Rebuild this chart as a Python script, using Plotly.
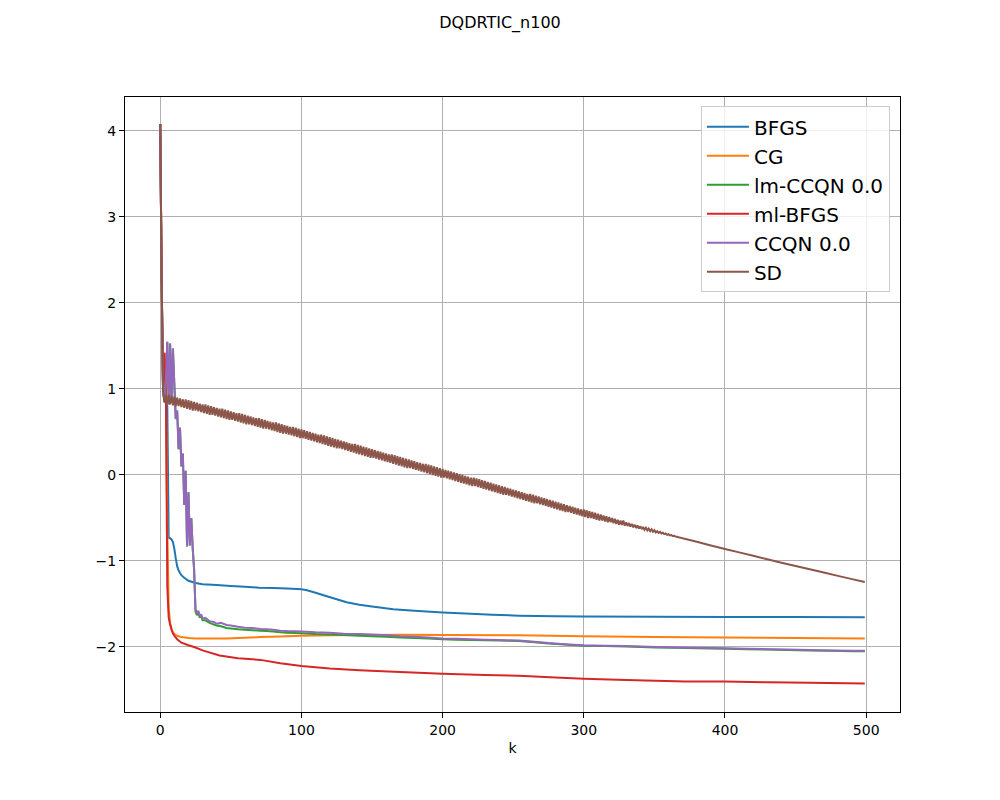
import plotly.graph_objects as go

# iteration index k and log10 objective value per method
BFGS_K = [0, 1, 2, 3, 4, 5, 6, 7, 8, 9, 10, 11, 12, 13, 14, 15, 17, 20, 25, 30,
          40, 50, 60, 70, 80, 90, 100, 104, 110, 118, 125, 132, 141, 150, 165,
          180, 200, 220, 235, 254, 280, 300, 350, 400, 450, 499]
BFGS_Y = [4.08, 2.30, 0.98, 0.88, 0.86, 0.80, -0.73, -0.735, -0.75, -0.78, -0.86,
          -0.97, -1.06, -1.11, -1.14, -1.165, -1.195, -1.23, -1.255, -1.27, -1.28,
          -1.29, -1.30, -1.31, -1.315, -1.32, -1.33, -1.34, -1.37, -1.41, -1.445,
          -1.48, -1.51, -1.53, -1.56, -1.58, -1.60, -1.615, -1.625, -1.636, -1.642,
          -1.645, -1.648, -1.65, -1.652, -1.655]

CG_K = [0, 1, 2, 3, 4, 5, 6, 7, 8, 9, 10, 12, 15, 20, 25, 35, 47, 60, 71, 85, 100,
        120, 141, 170, 200, 254, 300, 350, 400, 450, 499]
CG_Y = [4.08, 2.30, 0.98, 1.42, 0.90, -0.60, -1.55, -1.72, -1.79, -1.83, -1.85,
        -1.87, -1.885, -1.895, -1.90, -1.902, -1.90, -1.893, -1.885, -1.878, -1.87,
        -1.865, -1.86, -1.858, -1.86, -1.865, -1.876, -1.883, -1.89, -1.895, -1.90]

LMCCQN_K = [0, 1, 2, 3, 4, 5, 6, 7, 8, 9, 10, 11, 12, 13, 14, 15, 16, 17, 18, 19,
            20, 21, 22, 23, 24, 25, 26, 27, 28, 29, 30, 32, 35, 38, 40, 43, 47, 50,
            55, 60, 65, 71, 75, 80, 85, 90, 100, 110, 120, 130, 141, 150, 160, 170,
            180, 190, 200, 210, 220, 230, 240, 254, 265, 275, 289, 300, 315, 330,
            351, 365, 380, 400, 415, 430, 444, 460, 475, 490, 499]
LMCCQN_Y = [4.08, 2.30, 0.98, 0.85, 1.10, 1.55, 0.82, 1.53, 0.85, 1.47, 1.05, 0.65,
            0.75, 0.30, 0.55, 0.10, 0.25, -0.35, 0.05, -0.83, -0.20, -0.82, -0.50,
            -0.85, -1.10, -1.59, -1.63, -1.60, -1.66, -1.64, -1.69, -1.69, -1.72,
            -1.74, -1.75, -1.76, -1.78, -1.785, -1.795, -1.80, -1.805, -1.81, -1.815,
            -1.82, -1.83, -1.835, -1.84, -1.85, -1.855, -1.86, -1.87, -1.875, -1.88,
            -1.89, -1.895, -1.90, -1.91, -1.915, -1.92, -1.922, -1.925, -1.93,
            -1.945, -1.96, -1.975, -1.985, -1.99, -1.995, -2.005, -2.01, -2.015,
            -2.02, -2.025, -2.03, -2.035, -2.04, -2.045, -2.05, -2.05]

MLBFGS_K = [0, 1, 2, 3, 4, 5, 6, 7, 8, 9, 10, 12, 15, 20, 24, 30, 42, 55, 71, 85,
            100, 120, 141, 170, 200, 230, 254, 280, 300, 330, 372, 400, 430, 460, 499]
MLBFGS_Y = [4.08, 2.30, 0.98, 1.42, 1.00, -1.30, -1.66, -1.74, -1.80, -1.84, -1.87,
            -1.91, -1.95, -1.98, -2.00, -2.04, -2.10, -2.13, -2.15, -2.19, -2.22,
            -2.25, -2.27, -2.29, -2.31, -2.325, -2.335, -2.355, -2.37, -2.385, -2.40,
            -2.40, -2.41, -2.415, -2.425]

CCQN_K = LMCCQN_K
CCQN_Y = [4.08, 2.30, 0.98, 0.85, 1.10, 1.55, 0.82, 1.53, 0.85, 1.47, 1.05, 0.65,
          0.75, 0.30, 0.55, 0.10, 0.25, -0.35, 0.05, -0.83, -0.20, -0.82, -0.50,
          -0.85, -1.10, -1.57, -1.60, -1.58, -1.64, -1.62, -1.67, -1.66, -1.70,
          -1.71, -1.73, -1.72, -1.745, -1.75, -1.765, -1.775, -1.78, -1.79, -1.795,
          -1.80, -1.81, -1.815, -1.82, -1.83, -1.835, -1.845, -1.85, -1.855, -1.865,
          -1.875, -1.88, -1.89, -1.90, -1.905, -1.91, -1.915, -1.92, -1.926,
          -1.94, -1.955, -1.97, -1.98, -1.985, -1.99, -2.00, -2.005, -2.01,
          -2.015, -2.02, -2.025, -2.03, -2.035, -2.04, -2.043, -2.045]

SD_K = list(range(0, 371)) + [380, 390, 400, 410, 420, 430, 440, 450, 460, 470,
                              480, 490, 499]
SD_Y = [
    4.08, 2.30, 0.98, 0.84, 0.93, 0.83, 0.93, 0.82, 0.92, 0.81,
    0.91, 0.80, 0.90, 0.80, 0.89, 0.79, 0.88, 0.78, 0.88, 0.77,
    0.87, 0.76, 0.86, 0.75, 0.85, 0.75, 0.84, 0.74, 0.83, 0.73,
    0.82, 0.72, 0.82, 0.71, 0.81, 0.70, 0.80, 0.70, 0.79, 0.69,
    0.78, 0.68, 0.77, 0.67, 0.77, 0.66, 0.76, 0.65, 0.75, 0.64,
    0.74, 0.64, 0.73, 0.63, 0.72, 0.62, 0.72, 0.61, 0.71, 0.60,
    0.70, 0.59, 0.69, 0.59, 0.68, 0.58, 0.67, 0.57, 0.66, 0.56,
    0.66, 0.55, 0.65, 0.54, 0.64, 0.54, 0.63, 0.53, 0.62, 0.52,
    0.61, 0.51, 0.61, 0.50, 0.60, 0.49, 0.59, 0.48, 0.58, 0.48,
    0.57, 0.47, 0.56, 0.46, 0.56, 0.45, 0.55, 0.44, 0.54, 0.43,
    0.53, 0.43, 0.52, 0.42, 0.51, 0.41, 0.50, 0.40, 0.49, 0.39,
    0.48, 0.38, 0.47, 0.37, 0.47, 0.36, 0.46, 0.35, 0.45, 0.34,
    0.44, 0.33, 0.43, 0.32, 0.42, 0.31, 0.41, 0.31, 0.40, 0.30,
    0.39, 0.29, 0.38, 0.28, 0.37, 0.27, 0.36, 0.26, 0.36, 0.25,
    0.35, 0.24, 0.34, 0.23, 0.33, 0.22, 0.32, 0.21, 0.31, 0.20,
    0.30, 0.20, 0.29, 0.19, 0.28, 0.18, 0.27, 0.17, 0.26, 0.16,
    0.25, 0.15, 0.24, 0.14, 0.24, 0.13, 0.23, 0.12, 0.22, 0.11,
    0.21, 0.10, 0.20, 0.09, 0.19, 0.08, 0.18, 0.08, 0.17, 0.07,
    0.16, 0.06, 0.15, 0.05, 0.14, 0.04, 0.13, 0.03, 0.13, 0.02,
    0.12, 0.01, 0.11, 0.00, 0.10, -0.01, 0.09, -0.02, 0.08, -0.03,
    0.07, -0.03, 0.06, -0.04, 0.05, -0.05, 0.04, -0.06, 0.03, -0.07,
    0.02, -0.08, 0.01, -0.09, 0.00, -0.10, -0.01, -0.11, -0.02, -0.12,
    -0.03, -0.13, -0.03, -0.13, -0.04, -0.14, -0.05, -0.15, -0.06, -0.16,
    -0.07, -0.17, -0.08, -0.18, -0.09, -0.19, -0.10, -0.20, -0.11, -0.21,
    -0.12, -0.22, -0.13, -0.23, -0.14, -0.23, -0.15, -0.24, -0.16, -0.25,
    -0.17, -0.26, -0.18, -0.27, -0.19, -0.28, -0.20, -0.29, -0.21, -0.30,
    -0.22, -0.31, -0.22, -0.32, -0.23, -0.33, -0.24, -0.33, -0.25, -0.34,
    -0.26, -0.35, -0.27, -0.36, -0.28, -0.37, -0.29, -0.38, -0.30, -0.39,
    -0.31, -0.40, -0.32, -0.41, -0.33, -0.42, -0.34, -0.43, -0.35, -0.43,
    -0.36, -0.44, -0.37, -0.45, -0.38, -0.46, -0.39, -0.47, -0.40, -0.48,
    -0.40, -0.49, -0.41, -0.50, -0.42, -0.50, -0.43, -0.51, -0.44, -0.52,
    -0.45, -0.53, -0.46, -0.53, -0.47, -0.54, -0.48, -0.55, -0.49, -0.55,
    -0.50, -0.56, -0.51, -0.57, -0.52, -0.58, -0.53, -0.58, -0.53, -0.59,
    -0.550, -0.593, -0.559, -0.601, -0.568, -0.608, -0.577, -0.616, -0.586, -0.623,
    -0.595, -0.630, -0.605, -0.638, -0.614, -0.645, -0.623, -0.653, -0.632, -0.660,
    -0.641, -0.668, -0.653, -0.673, -0.662, -0.680, -0.671, -0.688, -0.680, -0.696,
    -0.689, -0.703, -0.699, -0.710, -0.708, -0.717, -0.718, -0.724, -0.727, -0.731,
    -0.736,
    -0.777, -0.819, -0.860, -0.900, -0.940, -0.980, -1.020, -1.059, -1.097, -1.135,
    -1.173, -1.211, -1.245,
]

NAMES = ["BFGS", "CG", "lm-CCQN 0.0", "ml-BFGS", "CCQN 0.0", "SD"]
COLORS = ["#1f77b4", "#ff7f0e", "#2ca02c", "#d62728", "#9467bd", "#8c564b"]
SERIES = [(BFGS_K, BFGS_Y), (CG_K, CG_Y), (LMCCQN_K, LMCCQN_Y),
          (MLBFGS_K, MLBFGS_Y), (CCQN_K, CCQN_Y), (SD_K, SD_Y)]

fig = go.Figure()
for i, (name, color, (k, y)) in enumerate(zip(NAMES, COLORS, SERIES)):
    fig.add_trace(go.Scatter(x=k, y=y, mode="lines", name=name, legendgroup=str(i),
                             line=dict(color=color, width=2, simplify=False)))

axis_style = dict(showgrid=True, gridcolor="#b0b0b0", gridwidth=1,
                  showline=True, linecolor="black", linewidth=1, mirror=True,
                  ticks="outside", ticklen=5, tickwidth=1, tickcolor="black",
                  zeroline=False, tickfont=dict(size=14, color="black"))

fig.update_xaxes(range=[-24.95, 523.95], tickvals=[0, 100, 200, 300, 400, 500],
                 title=dict(text="k", font=dict(size=14, color="black"), standoff=6),
                 **axis_style)
fig.update_yaxes(range=[-2.756, 4.395], tickvals=[-2, -1, 0, 1, 2, 3, 4],
                 **axis_style)

# the page adds an 8px body margin, so the margins are shifted to compensate
fig.update_layout(
    width=1000, height=800,
    margin=dict(l=117, r=108, t=89, b=96),
    paper_bgcolor="white", plot_bgcolor="white",
    font=dict(family="DejaVu Sans", color="black"),
    title=dict(text="DQDRTIC_n100", x=0.492, xanchor="center", y=0.9825,
               yanchor="middle", font=dict(size=16, color="black")),
    legend=dict(x=0.987, y=0.985, xanchor="right", yanchor="top",
                font=dict(size=20, color="black"), tracegroupgap=0, itemwidth=42,
                bgcolor="rgba(255,255,255,0.8)", bordercolor="#cccccc", borderwidth=1),
    showlegend=True,
)

fig.write_html("out.html")
